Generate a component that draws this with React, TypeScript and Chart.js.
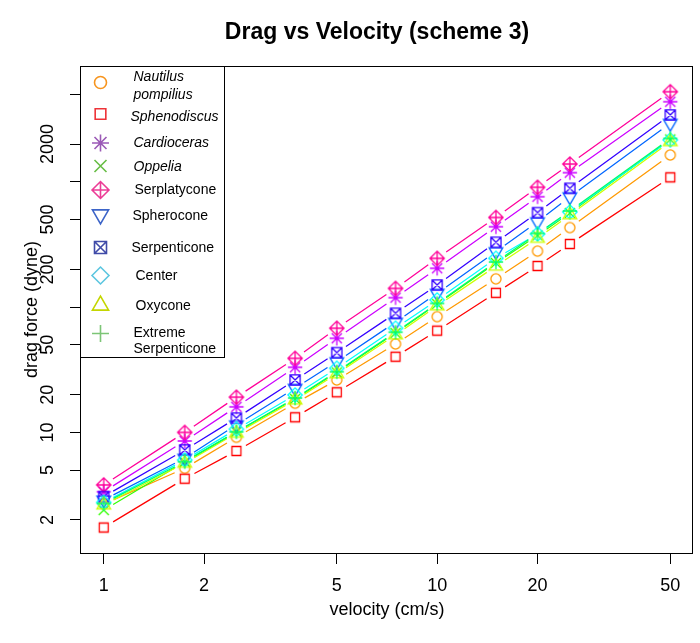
import React, { useEffect, useRef } from 'react';
import { Chart, registerables } from 'chart.js';

Chart.register(...registerables);

// ---------------- data ----------------
const VELOCITY = [1, 1.75, 2.5, 3.75, 5, 7.5, 10, 15, 20, 25, 50];

const NAUTILUS_POMPILIUS = [2.68, 5.17, 9.14, 17.1, 26.2, 50.8, 83.9, 168, 280, 431, 1637];
const SPHENODISCUS = [1.74, 4.27, 7.11, 13.2, 20.9, 40.2, 64.9, 130, 213, 319, 1086];
const CARDIOCERAS = [3.36, 8.54, 16.0, 33.1, 56.4, 119, 204, 438, 760, 1183, 4357];
const OPPELIA = [2.4, 5.81, 10.1, 18.5, 30.1, 62.2, 106, 225, 373, 564, 2177];
const SERPLATYCONE = [3.81, 10.0, 19.1, 39.0, 67.8, 141, 245, 519, 904, 1387, 5236];
const SPHEROCONE = [2.89, 6.22, 11.5, 22.5, 36.7, 75.7, 129, 277, 480, 760, 2932];
const SERPENTICONE = [3.07, 7.24, 13.0, 26.2, 43.3, 89.3, 150, 329, 567, 887, 3416];
const CENTER = [2.76, 6.02, 10.6, 19.9, 32.5, 67.8, 114, 245, 383, 574, 2157];
const OXYCONE = [2.63, 5.67, 9.84, 18.1, 29.3, 59.9, 102, 212, 354, 544, 2090];
const EXTREME_SERPENTICONE = [2.71, 5.84, 10.1, 18.8, 30.5, 63.0, 107, 229, 387, 585, 2217];

const SERIES_NAMES = [
  'Nautilus pompilius',
  'Sphenodiscus',
  'Cardioceras',
  'Oppelia',
  'Serplatycone',
  'Spherocone',
  'Serpenticone',
  'Center',
  'Oxycone',
  'Extreme Serpenticone',
];
const SERIES_VALUES = [
  NAUTILUS_POMPILIUS,
  SPHENODISCUS,
  CARDIOCERAS,
  OPPELIA,
  SERPLATYCONE,
  SPHEROCONE,
  SERPENTICONE,
  CENTER,
  OXYCONE,
  EXTREME_SERPENTICONE,
];

const X_TICKS = [1, 2, 5, 10, 20, 50];
const X_TICK_LABELS = ['1', '2', '5', '10', '20', '50'];
const Y_TICKS = [2, 5, 10, 20, 50, 100, 200, 500, 1000, 2000, 5000];
const Y_TICK_LABELS = ['2', '5', '10', '20', '50', '', '200', '500', '', '2000', ''];

const TITLE = 'Drag vs Velocity (scheme 3)';
const X_TITLE = 'velocity (cm/s)';
const Y_TITLE = 'drag force (dyne)';

// ---------------- styles ----------------
const FONT = '"Liberation Sans", Arial, Helvetica, sans-serif';
const PLOT_COLORS = [
  '#FF9900',
  '#FF0000',
  '#CC00FF',
  '#33FF00',
  '#FF0099',
  '#0066FF',
  '#3300FF',
  '#00FFFF',
  '#CCFF00',
  '#00FF66',
];
const LEGEND_COLORS = [
  '#F7941D',
  '#EE3338',
  '#9B59B6',
  '#67BD45',
  '#EC3C96',
  '#3C64C8',
  '#3F4AA8',
  '#5CC6E0',
  '#C4D600',
  '#7CC576',
];
const PCH = [
  'circle',
  'square',
  'asterisk',
  'x',
  'diamondPlus',
  'triDown',
  'squareX',
  'diamond',
  'triUp',
  'plus',
];
const ITALIC = [true, true, true, true, false, false, false, false, false, false];
const LEGEND_TEXT_LINES = [
  ['Nautilus', 'pompilius'],
  ['Sphenodiscus'],
  ['Cardioceras'],
  ['Oppelia'],
  ['Serplatycone'],
  ['Spherocone'],
  ['Serpenticone'],
  ['Center'],
  ['Oxycone'],
  ['Extreme', 'Serpenticone'],
];
// legend layout (offsets from the legend box's top-left corner)
const LEGEND_W = 144;
const LEGEND_H = 291;
const LEGEND_SYM_X = 20;
const LEGEND_SYM_Y = [16, 47.5, 76.5, 99.5, 123.5, 148, 181, 209, 239, 267];
const LEGEND_TXT_X = [53, 50, 53, 53, 54, 52, 51, 55, 55, 53];
const LEGEND_TXT_Y = [[11, 28.5], [51], [77], [100.5], [124], [150], [182], [209.5], [239.5], [266.5, 283]];

const GAP = 11;
const PLOT_SYM = 13.5;
const LEGEND_SYM = 16;

function drawPch(ctx: CanvasRenderingContext2D, pch: string, x: number, y: number, s: number) {
  const R = 0.375 * s;
  const S2 = Math.SQRT2 * R;
  ctx.beginPath();
  const line = (x0: number, y0: number, x1: number, y1: number) => {
    ctx.moveTo(x0, y0);
    ctx.lineTo(x1, y1);
  };
  switch (pch) {
    case 'circle':
      ctx.arc(x, y, R, 0, Math.PI * 2);
      break;
    case 'square': {
      const h = R * 0.886227;
      ctx.rect(x - h, y - h, 2 * h, 2 * h);
      break;
    }
    case 'triUp':
    case 'triDown': {
      const r = 1.5551203 * R;
      const yc = 0.7775602 * R;
      const xc = 1.3467737 * R;
      const d = pch === 'triUp' ? 1 : -1;
      ctx.moveTo(x, y - d * r);
      ctx.lineTo(x + xc, y + d * yc);
      ctx.lineTo(x - xc, y + d * yc);
      ctx.closePath();
      break;
    }
    case 'x':
      line(x - R, y - R, x + R, y + R);
      line(x - R, y + R, x + R, y - R);
      break;
    case 'plus':
      line(x - S2, y, x + S2, y);
      line(x, y - S2, x, y + S2);
      break;
    case 'asterisk':
      line(x - R, y - R, x + R, y + R);
      line(x - R, y + R, x + R, y - R);
      line(x - S2, y, x + S2, y);
      line(x, y - S2, x, y + S2);
      break;
    case 'diamond':
      ctx.moveTo(x - S2, y);
      ctx.lineTo(x, y - S2);
      ctx.lineTo(x + S2, y);
      ctx.lineTo(x, y + S2);
      ctx.closePath();
      break;
    case 'diamondPlus':
      ctx.moveTo(x - S2, y);
      ctx.lineTo(x, y - S2);
      ctx.lineTo(x + S2, y);
      ctx.lineTo(x, y + S2);
      ctx.closePath();
      line(x - S2, y, x + S2, y);
      line(x, y - S2, x, y + S2);
      break;
    case 'squareX':
      ctx.rect(x - R, y - R, 2 * R, 2 * R);
      line(x - R, y - R, x + R, y + R);
      line(x - R, y + R, x + R, y - R);
      break;
  }
  ctx.stroke();
}

function makeMarker(pch: string, color: string): HTMLCanvasElement {
  const c = document.createElement('canvas');
  c.width = 26;
  c.height = 26;
  const ctx = c.getContext('2d')!;
  ctx.strokeStyle = color;
  ctx.lineWidth = 1.3;
  drawPch(ctx, pch, 13, 13, PLOT_SYM);
  return c;
}

const gapLinesPlugin = {
  id: 'gapLines',
  beforeDatasetsDraw(chart: any) {
    const { ctx } = chart;
    const xs = chart.scales.x;
    const ys = chart.scales.y;
    ctx.save();
    ctx.lineWidth = 1.25;
    SERIES_VALUES.forEach((vals, i) => {
      ctx.strokeStyle = PLOT_COLORS[i];
      ctx.beginPath();
      for (let j = 1; j < vals.length; j++) {
        const x0 = xs.getPixelForValue(VELOCITY[j - 1]);
        const y0 = ys.getPixelForValue(vals[j - 1]);
        const x1 = xs.getPixelForValue(VELOCITY[j]);
        const y1 = ys.getPixelForValue(vals[j]);
        const dx = x1 - x0;
        const dy = y1 - y0;
        const len = Math.hypot(dx, dy);
        if (len > 2 * GAP) {
          const f = GAP / len;
          ctx.moveTo(x0 + f * dx, y0 + f * dy);
          ctx.lineTo(x1 - f * dx, y1 - f * dy);
        }
      }
      ctx.stroke();
    });
    ctx.restore();
  },
};

const decorPlugin = {
  id: 'decor',
  afterDraw(chart: any) {
    const { ctx, chartArea } = chart;
    const { left, top, right, bottom } = chartArea;
    ctx.save();
    // plot box
    ctx.strokeStyle = '#000';
    ctx.lineWidth = 1;
    ctx.strokeRect(Math.round(left) - 0.5, Math.round(top) + 0.5, Math.round(right - left), Math.round(bottom - top));
    // title
    ctx.fillStyle = '#000';
    ctx.font = `bold 23px ${FONT}`;
    ctx.textAlign = 'center';
    ctx.textBaseline = 'middle';
    ctx.fillText(TITLE, 377, 33);
    // legend
    const lx = Math.round(left) - 0.5;
    const ly = Math.round(top) + 0.5;
    ctx.fillStyle = '#fff';
    ctx.fillRect(lx, ly, LEGEND_W, LEGEND_H);
    ctx.strokeStyle = '#000';
    ctx.strokeRect(lx, ly, LEGEND_W, LEGEND_H);
    ctx.textAlign = 'left';
    ctx.textBaseline = 'middle';
    for (let i = 0; i < SERIES_NAMES.length; i++) {
      ctx.strokeStyle = LEGEND_COLORS[i];
      ctx.lineWidth = 1.6;
      drawPch(ctx, PCH[i], lx + LEGEND_SYM_X, ly + LEGEND_SYM_Y[i], LEGEND_SYM);
      ctx.fillStyle = '#000';
      ctx.font = `${ITALIC[i] ? 'italic ' : ''}14px ${FONT}`;
      LEGEND_TEXT_LINES[i].forEach((t, k) => {
        ctx.fillText(t, lx + LEGEND_TXT_X[i], ly + LEGEND_TXT_Y[i][k]);
      });
    }
    ctx.restore();
  },
};

export default function App() {
  const ref = useRef<HTMLCanvasElement | null>(null);

  useEffect(() => {
    if (!ref.current) return;
    Chart.defaults.font.family = FONT;
    const markers = PCH.map((p, i) => makeMarker(p, PLOT_COLORS[i]));
    const chart = new Chart(ref.current, {
      type: 'scatter',
      data: {
        datasets: SERIES_VALUES.map((vals, i) => ({
          label: SERIES_NAMES[i],
          data: VELOCITY.map((v, j) => ({ x: v, y: vals[j] })),
          showLine: false,
          pointStyle: markers[i] as any,
          pointRadius: 6,
          pointHoverRadius: 6,
          borderColor: PLOT_COLORS[i],
          backgroundColor: PLOT_COLORS[i],
          order: SERIES_NAMES.length - i,
        })),
      },
      options: {
        animation: false,
        responsive: false,
        devicePixelRatio: 1,
        events: [],
        layout: { padding: { left: 0, top: 66, right: 3, bottom: 0 } },
        plugins: {
          legend: { display: false },
          tooltip: { enabled: false },
          title: { display: false },
        },
        scales: {
          x: {
            type: 'logarithmic',
            position: 'bottom',
            min: 0.855,
            max: 58.5,
            bounds: 'data',
            afterBuildTicks: (s: any) => {
              s.ticks = X_TICKS.map((v) => ({ value: v }));
            },
            afterFit: (s: any) => {
              s.height = 90;
            },
            grid: {
              drawOnChartArea: false,
              drawTicks: true,
              tickLength: 11,
              color: '#000',
              lineWidth: 1,
            },
            border: { display: false },
            ticks: {
              autoSkip: false,
              maxRotation: 0,
              minRotation: 0,
              padding: 11,
              color: '#000',
              font: { size: 18, family: FONT },
              callback: (v: any) => {
                const k = X_TICKS.indexOf(Number(v));
                return k >= 0 ? X_TICK_LABELS[k] : '';
              },
            },
            title: {
              display: true,
              text: X_TITLE,
              color: '#000',
              font: { size: 18, family: FONT },
              padding: { top: 0, bottom: 22 },
            },
          },
          y: {
            type: 'logarithmic',
            position: 'left',
            min: 1.09,
            max: 8400,
            bounds: 'data',
            afterBuildTicks: (s: any) => {
              s.ticks = Y_TICKS.map((v) => ({ value: v }));
            },
            afterFit: (s: any) => {
              s.width = 81;
            },
            grid: {
              drawOnChartArea: false,
              drawTicks: true,
              tickLength: 11,
              color: '#000',
              lineWidth: 1,
            },
            border: { display: false },
            ticks: {
              autoSkip: false,
              minRotation: 90,
              maxRotation: 90,
              crossAlign: 'center',
              padding: 2,
              color: '#000',
              font: { size: 18, family: FONT },
              callback: (v: any) => {
                const k = Y_TICKS.indexOf(Number(v));
                return k >= 0 ? Y_TICK_LABELS[k] : '';
              },
            },
            title: {
              display: true,
              text: Y_TITLE,
              color: '#000',
              font: { size: 18, family: FONT },
              padding: { top: 21, bottom: 0 },
            },
          },
        },
      },
      plugins: [gapLinesPlugin, decorPlugin],
    } as any);
    return () => chart.destroy();
  }, []);

  return (
    <div style={{ position: 'absolute', left: 0, top: 0, width: 700, height: 643, background: '#fff' }}>
      <canvas ref={ref} width={700} height={643} style={{ display: 'block', width: 700, height: 643 }} />
    </div>
  );
}
